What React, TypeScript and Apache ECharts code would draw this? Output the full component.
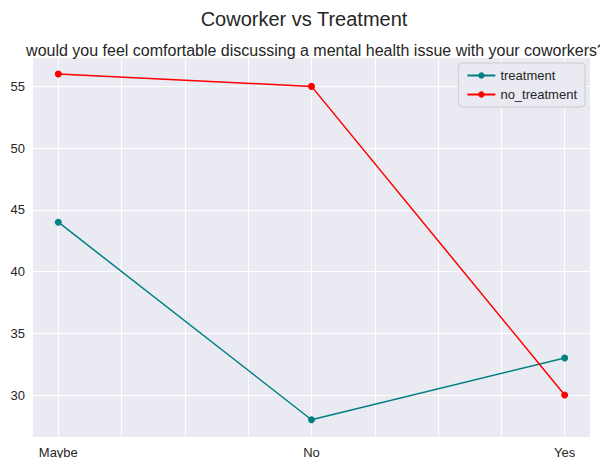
import { useEffect, useRef } from "react";
import * as echarts from "echarts";

const categories = ["Maybe", "No", "Yes"];
const treatment = [44, 28, 33];
const noTreatment = [56, 55, 30];
const yTicks = [30, 35, 40, 45, 50, 55];
const xGrid = [0, 0.25, 0.5, 0.75, 1, 1.25, 1.5, 1.75, 2];

export default function App() {
  const ref = useRef<HTMLDivElement>(null);

  useEffect(() => {
    if (!ref.current) return;
    const chart = echarts.init(ref.current, null, { renderer: "svg" });
    const font = "Liberation Sans";
    const gridLines = {
      silent: true,
      symbol: "none",
      z: 1,
      label: { show: false },
      lineStyle: { color: "#ffffff", width: 1, type: "solid" },
      data: [
        ...xGrid.map((x) => ({ xAxis: x })),
        ...yTicks.map((y) => ({ yAxis: y })),
      ],
    };
    chart.setOption({
      animation: false,
      textStyle: { fontFamily: font },
      title: [
        {
          text: "Coworker vs Treatment",
          left: "center",
          top: 4,
          textStyle: { fontSize: 20, fontWeight: "normal", color: "#262626", fontFamily: font },
        },
        {
          text: "would you feel comfortable discussing a mental health issue with your coworkers?",
          left: 311,
          textAlign: "center",
          top: 37,
          textStyle: { fontSize: 16, fontWeight: "normal", color: "#262626", fontFamily: font },
        },
      ],
      legend: {
        right: 23,
        top: 63,
        orient: "vertical",
        backgroundColor: "#EAEAF2",
        borderColor: "#cccccc",
        borderWidth: 1,
        borderRadius: 4,
        padding: [6, 8],
        itemGap: 6,
        itemWidth: 28,
        itemHeight: 8,
        textStyle: { fontSize: 13, color: "#262626", fontFamily: font },
        data: ["treatment", "no_treatment"],
      },
      grid: {
        left: 33,
        right: 18,
        top: 58,
        bottom: 29,
        show: true,
        backgroundColor: "#EAEAF2",
        borderWidth: 0,
      },
      xAxis: {
        type: "value",
        min: -0.1,
        max: 2.1,
        axisLine: { show: false },
        axisTick: { show: false },
        splitLine: { show: false },
        axisLabel: {
          customValues: [0, 1, 2],
          formatter: (v: number) => categories[Math.round(v)] ?? "",
          fontSize: 13,
          color: "#262626",
          margin: 9,
        },
      },
      yAxis: {
        type: "value",
        min: 26.6,
        max: 57.3,
        axisLine: { show: false },
        axisTick: { show: false },
        splitLine: { show: false },
        axisLabel: {
          customValues: yTicks,
          fontSize: 13,
          color: "#262626",
          margin: 8,
        },
      },
      series: [
        {
          name: "grid",
          type: "line",
          data: [],
          silent: true,
          z: 1,
          markLine: gridLines,
        },
        {
          name: "treatment",
          type: "line",
          data: treatment.map((v, i) => [i, v]),
          color: "#008080",
          symbol: "circle",
          symbolSize: 7,
          lineStyle: { width: 1.5 },
          z: 3,
        },
        {
          name: "no_treatment",
          type: "line",
          data: noTreatment.map((v, i) => [i, v]),
          color: "#ff0000",
          symbol: "circle",
          symbolSize: 7,
          lineStyle: { width: 1.5 },
          z: 3,
        },
      ],
    });
    return () => chart.dispose();
  }, []);

  return <div ref={ref} style={{ width: 608, height: 466, margin: -8 }} />;
}
